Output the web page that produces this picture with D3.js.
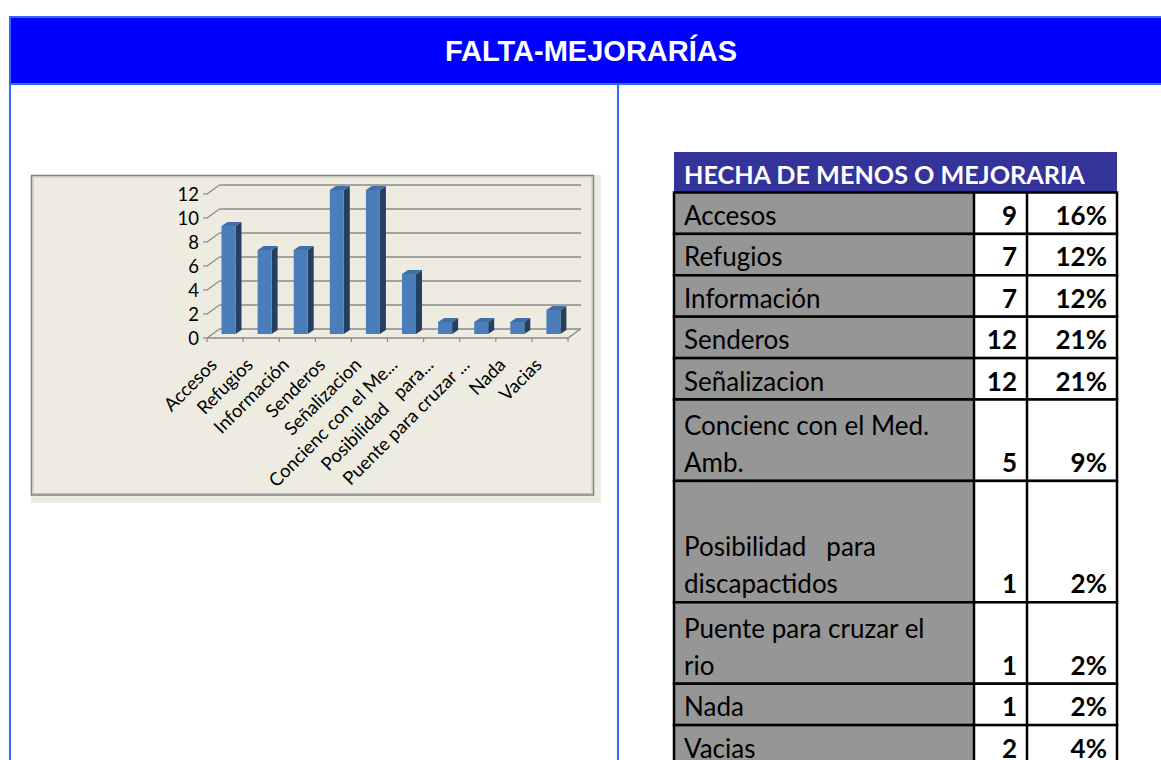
<!DOCTYPE html>
<html>
<head>
<meta charset="utf-8">
<script src="https://cdn.jsdelivr.net/npm/d3@7"></script>
<style>
  body { margin: 0; background: #fff; }
  svg { display: block; }
</style>
</head>
<body>
<div id="container"></div>
<script>
// data
var categories = ["Accesos", "Refugios", "Información", "Senderos", "Señalizacion",
    "Concienc con el Med. Amb.", "Posibilidad   para discapactidos", "Puente para cruzar el rio", "Nada", "Vacias"];
var axisLabels = ["Accesos", "Refugios", "Información", "Senderos", "Señalizacion",
    "Concienc con el Me...", "Posibilidad   para...", "Puente para cruzar ...", "Nada", "Vacias"];
var tableLabels = [["Accesos"], ["Refugios"], ["Información"], ["Senderos"], ["Señalizacion"],
    ["Concienc con el Med.", "Amb."], ["", "Posibilidad   para", "discapactidos"],
    ["Puente para cruzar el", "rio"], ["Nada"], ["Vacias"]];
var counts = [9, 7, 7, 12, 12, 5, 1, 1, 1, 2];
var percents = ["16%", "12%", "12%", "21%", "21%", "9%", "2%", "2%", "2%", "4%"];
var yTicks = [0, 2, 4, 6, 8, 10, 12];
var pageTitle = "FALTA-MEJORARÍAS";
var tableTitle = "HECHA DE MENOS O MEJORARIA";

(function(){
    var width = 1161, height = 760;
    var svg = d3.select("#container").append("svg")
        .attr("width", width).attr("height", height);

    //page header band
    svg.append("rect").attr("x", 10).attr("y", 17).attr("width", 1160).attr("height", 67)
        .attr("fill", "#0000ff").attr("stroke", "#3366ff").attr("stroke-width", 2);
    svg.append("text").attr("x", 591).attr("y", 61)
        .attr("text-anchor", "middle")
        .style("font-family", "'Liberation Sans', Arial, sans-serif")
        .style("font-weight", "bold").style("font-size", "29px")
        .attr("fill", "#fff").text(pageTitle);
    //cell borders
    [10, 618].forEach(function(x){
        svg.append("line").attr("x1", x).attr("x2", x).attr("y1", 85).attr("y2", height)
            .attr("stroke", "#3366ff").attr("stroke-width", 2);
    });

    //chart frame
    svg.append("rect").attr("x", 31).attr("y", 175).attr("width", 570).attr("height", 328)
        .attr("fill", "#eeece1");
    svg.append("rect").attr("x", 31.5).attr("y", 175.5).attr("width", 562).attr("height", 319.5)
        .attr("fill", "none").attr("stroke", "#7f7f7f").attr("stroke-width", 1.5);
    svg.append("rect").attr("x", 33).attr("y", 177).attr("width", 559).attr("height", 316.5)
        .attr("fill", "none").attr("stroke", "#c4c2b8").attr("stroke-width", 1);

    setChart(svg);
    setTable(svg);

    function setChart(svg){
        var frontY = 338, depthX = 12.5, depthY = -9;
        var x = d3.scaleBand().domain(categories).range([207, 568]);
        var h = d3.scaleLinear().domain([0, 12]).range([0, 144]);
        var g = svg.append("g");
        var gridColor = "#8a8a8a";

        //back wall gridlines and side diagonals
        yTicks.forEach(function(t){
            var yf = frontY - h(t), yb = yf + depthY;
            g.append("line").attr("x1", 207 + depthX).attr("x2", 568 + depthX + 0.5)
                .attr("y1", yb).attr("y2", yb)
                .attr("stroke", gridColor).attr("stroke-width", 1.5);
            g.append("line").attr("x1", 207).attr("y1", yf).attr("x2", 207 + depthX).attr("y2", yb)
                .attr("stroke", gridColor).attr("stroke-width", 1.2);
            g.append("line").attr("x1", 203).attr("y1", yf).attr("x2", 207).attr("y2", yf)
                .attr("stroke", gridColor).attr("stroke-width", 1.2);
            g.append("text").attr("x", 199).attr("y", yf).attr("dy", "0.36em")
                .attr("text-anchor", "end")
                .style("font-family", "Lato, sans-serif").style("font-size", "18.5px")
                .attr("fill", "#000").text(t);
        });
        //floor
        g.append("path")
            .attr("d", "M207," + frontY + "L568," + frontY + "L" + (568 + depthX) + "," + (frontY + depthY))
            .attr("fill", "none").attr("stroke", gridColor).attr("stroke-width", 1.5);
        //category ticks
        d3.range(categories.length + 1).forEach(function(i){
            var tx = 207 + x.step() * i;
            g.append("line").attr("x1", tx).attr("x2", tx).attr("y1", frontY).attr("y2", frontY + 4)
                .attr("stroke", gridColor).attr("stroke-width", 1.2);
        });

        //3d bars
        var base = 334, bw = 14, dx = 6, dy = -4;
        var bars = g.selectAll(".bar").data(categories).enter().append("g").attr("class", "bar");
        bars.append("path").attr("d", function(c, i){
            var x0 = x(c) + 14.5 + bw, top = base - h(counts[i]);
            return "M" + x0 + "," + top + "L" + (x0 + dx) + "," + (top + dy) + "L" + (x0 + dx) + "," + (base + dy) +
                "L" + x0 + "," + base + "Z";
        }).attr("fill", "#243f60");
        bars.append("path").attr("d", function(c, i){
            var x0 = x(c) + 14.5, top = base - h(counts[i]);
            return "M" + x0 + "," + top + "L" + (x0 + dx) + "," + (top + dy) + "L" + (x0 + bw + dx) + "," + (top + dy) +
                "L" + (x0 + bw) + "," + top + "Z";
        }).attr("fill", "#3f6ea8");
        bars.append("rect")
            .attr("x", function(c){ return x(c) + 14.5; })
            .attr("y", function(c, i){ return base - h(counts[i]); })
            .attr("width", bw)
            .attr("height", function(c, i){ return h(counts[i]); })
            .attr("fill", "#4a7ebb");

        //rotated category labels
        g.selectAll(".xlab").data(axisLabels).enter().append("text")
            .attr("class", "xlab")
            .attr("transform", function(d, i){
                var cx = x(categories[i]) + x.bandwidth() / 2 - 7;
                return "translate(" + cx + "," + (frontY + 28) + ") rotate(-45)";
            })
            .attr("text-anchor", "end")
            .style("font-family", "Lato, sans-serif").style("font-size", "18.5px")
            .style("white-space", "pre")
            .attr("fill", "#000").text(function(d){ return d; });
    }

    function setTable(svg){
        var left = 674, c1 = 974, c2 = 1027, right = 1117;
        var firstLine = 41.4, extraLine = 40, top = 192.5;
        var t = svg.append("g");
        t.append("rect").attr("x", left).attr("y", 152).attr("width", right - left).attr("height", 40.5)
            .attr("fill", "#333399");
        t.append("text").attr("x", 684).attr("y", 184)
            .style("font-family", "Lato, sans-serif").style("font-weight", "bold").style("font-size", "25.2px")
            .attr("fill", "#fff").text(tableTitle);

        var y = top;
        tableLabels.forEach(function(lines, i){
            var rh = firstLine + (lines.length - 1) * extraLine, bottom = y + rh;
            t.append("rect").attr("x", left).attr("y", y).attr("width", c1 - left).attr("height", rh)
                .attr("fill", "#969696");
            t.append("rect").attr("x", c1).attr("y", y).attr("width", right - c1).attr("height", rh)
                .attr("fill", "#fff");
            lines.forEach(function(s, k){
                t.append("text").attr("x", 684).attr("y", bottom - 9 - (lines.length - 1 - k) * 37)
                    .style("font-family", "Lato, sans-serif").style("font-size", "26px")
                    .style("white-space", "pre")
                    .attr("fill", "#000").text(s);
            });
            t.append("text").attr("x", c2 - 10).attr("y", bottom - 9).attr("text-anchor", "end")
                .style("font-family", "Lato, sans-serif").style("font-weight", "bold").style("font-size", "26px")
                .attr("fill", "#000").text(counts[i]);
            t.append("text").attr("x", right - 10).attr("y", bottom - 9).attr("text-anchor", "end")
                .style("font-family", "Lato, sans-serif").style("font-weight", "bold").style("font-size", "26px")
                .attr("fill", "#000").text(percents[i]);
            //row borders
            t.append("rect").attr("x", left).attr("y", y).attr("width", right - left).attr("height", rh)
                .attr("fill", "none").attr("stroke", "#000").attr("stroke-width", 2.5);
            [c1, c2].forEach(function(cx){
                t.append("line").attr("x1", cx).attr("x2", cx).attr("y1", y).attr("y2", bottom)
                    .attr("stroke", "#000").attr("stroke-width", 2.5);
            });
            y = bottom;
        });
    }
})();
</script>
</body>
</html>
